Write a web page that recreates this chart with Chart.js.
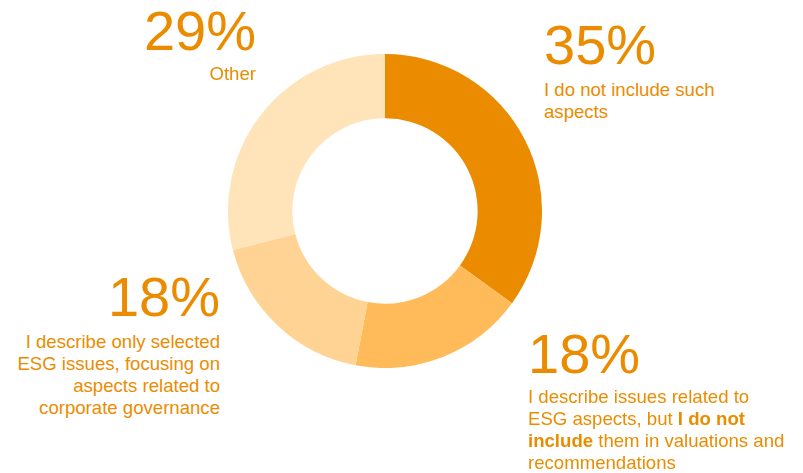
<!DOCTYPE html>
<html>
<head>
<meta charset="utf-8">
<script src="https://cdn.jsdelivr.net/npm/chart.js@4"></script>
<style>
  body { margin: 0; background: #fff; }
  #wrap { position: relative; width: 803px; height: 473px; overflow: hidden;
    font-family: "Liberation Sans", Arial, sans-serif; color: #eb8c00; }
  #donut { position: absolute; left: 228px; top: 54px; }
  .lbl { position: absolute; white-space: nowrap; }
  .lbl .pct { font-size: 56px; line-height: 56px; }
  .lbl .txt { font-size: 18.6px; line-height: 22px; }
  .right { text-align: right; }
</style>
</head>
<body>
<div id="wrap">
  <canvas id="donut" width="314" height="314"></canvas>
</div>
<script>
// survey answers, clockwise from 12 o'clock
const categories = [
  "I do not include such<br>aspects",
  "I describe issues related to<br>ESG aspects, but <b>I do not</b><br><b>include</b> them in valuations and<br>recommendations",
  "I describe only selected<br>ESG issues, focusing on<br>aspects related to<br>corporate governance",
  "Other",
];
const values = [35, 18, 18, 29];
const colors = ["#eb8c00", "#ffbb5a", "#ffd393", "#ffe3b9"];

// where each label block sits and how it is aligned
const labelBoxes = [
  { left: 544, pctTop: 17, txtTop: 79, align: "left" },
  { left: 528, pctTop: 326, txtTop: 386, align: "left" },
  { right: 583, pctTop: 269, txtTop: 331, align: "right" },
  { right: 547, pctTop: 3, txtTop: 63, align: "right" },
];

new Chart(document.getElementById("donut"), {
  type: "doughnut",
  data: {
    labels: categories,
    datasets: [
      {
        data: values,
        backgroundColor: colors,
        borderWidth: 0,
      },
    ],
  },
  options: {
    responsive: false,
    animation: false,
    cutout: "59%",
    plugins: {
      legend: { display: false },
      tooltip: { enabled: false },
    },
  },
});

// percentage + description labels
const wrap = document.getElementById("wrap");
categories.forEach((text, i) => {
  const box = labelBoxes[i];
  const pct = document.createElement("div");
  const txt = document.createElement("div");
  pct.className = "lbl";
  txt.className = "lbl";
  pct.innerHTML = '<span class="pct">' + values[i] + "%</span>";
  txt.innerHTML = '<div class="txt">' + text + "</div>";
  pct.style.top = box.pctTop + "px";
  txt.style.top = box.txtTop + "px";
  [pct, txt].forEach((el) => {
    if (box.align === "right") {
      el.classList.add("right");
      el.style.right = box.right + "px";
    } else {
      el.style.left = box.left + "px";
    }
    wrap.appendChild(el);
  });
});
</script>
</body>
</html>
